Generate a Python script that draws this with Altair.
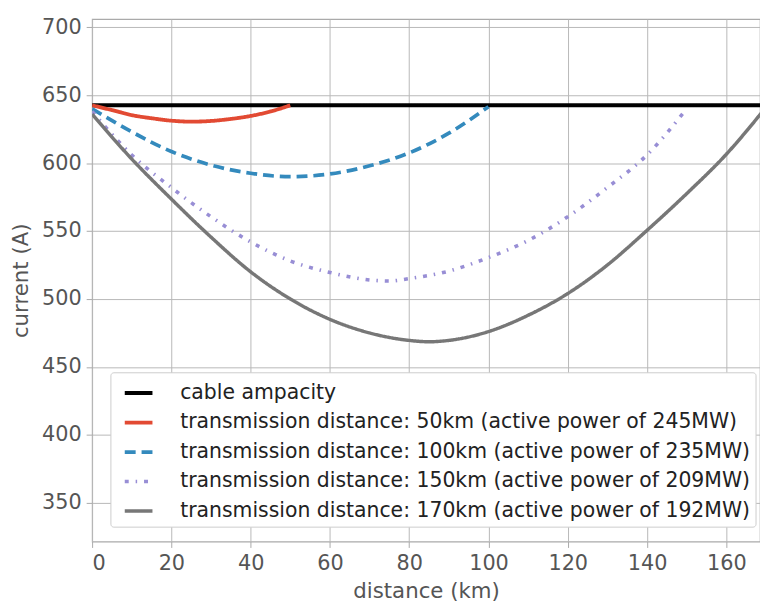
import altair as alt
import pandas as pd

series_names = [
    "cable ampacity",
    "transmission distance: 50km (active power of 245MW)",
    "transmission distance: 100km (active power of 235MW)",
    "transmission distance: 150km (active power of 209MW)",
    "transmission distance: 170km (active power of 192MW)",
]
colors = ["#000000", "#E24A33", "#348ABD", "#988ED5", "#777777"]
dashes = [[1, 0], [1, 0], [11, 6], [4, 7, 1.5, 7], [1, 0]]
widths = [4, 3.5, 4, 4, 3.5]

amp_x = [0, 170]
amp_y = [642.5, 642.5]

d50_x = [0, 5, 10, 15, 20, 25, 30, 35, 40, 45, 50]
d50_y = [642.5, 639, 635.3, 633, 631.2, 630.5, 631, 632.5, 634.7, 638, 642.5]

d100_x = [0, 10, 20, 30, 40, 50, 60, 70, 80, 90, 100]
d100_y = [640, 623, 608.5, 598.5, 592.5, 590, 592, 598, 607.5, 622, 641.5]

d150_x = [0, 10, 20, 30, 40, 50, 60, 70, 75, 80, 90, 100, 110, 120, 130, 140, 150]
d150_y = [638, 606, 582, 560.5, 542, 528, 519.5, 514, 513.2, 515, 520.5, 530.5,
          543, 560.5, 582, 606, 640]

d170_x = [0, 10, 20, 30, 40, 50, 60, 70, 80, 85, 90, 100, 110, 120, 130, 140, 150, 160, 170]
d170_y = [636, 603, 573.5, 545.5, 520, 500, 485, 475, 469.5, 468.5, 469.5, 476, 488,
          504, 525, 550.5, 577.5, 606.5, 641]

x_ticks = [0, 20, 40, 60, 80, 100, 120, 140, 160]
y_ticks = [350, 400, 450, 500, 550, 600, 650, 700]

rows = []
for name, xs, ys in zip(series_names,
                        [amp_x, d50_x, d100_x, d150_x, d170_x],
                        [amp_y, d50_y, d100_y, d150_y, d170_y]):
    for xv, yv in zip(xs, ys):
        rows.append({"series": name, "distance": xv, "current": yv})
df = pd.DataFrame(rows)

font = "DejaVu Sans"

chart = alt.Chart(df).mark_line(clip=True, interpolate="monotone").encode(
    x=alt.X("distance:Q", title="distance (km)",
            scale=alt.Scale(domain=[0, 168.5], nice=False, zero=False),
            axis=alt.Axis(values=x_ticks, format="d")),
    y=alt.Y("current:Q", title="current (A)",
            scale=alt.Scale(domain=[321.5, 706], nice=False, zero=False),
            axis=alt.Axis(values=y_ticks, format="d")),
    color=alt.Color("series:N", title=None,
                    scale=alt.Scale(domain=series_names, range=colors),
                    sort=series_names,
                    legend=alt.Legend(orient="none", legendX=18.5, legendY=357,
                                      symbolType="stroke", symbolSize=784,
                                      symbolStrokeWidth=4, symbolOffset=7.5,
                                      labelOffset=26, labelFontSize=20.6,
                                      labelFont=font, labelColor="#222222",
                                      labelLimit=800, rowPadding=2.8, padding=5,
                                      fillColor="white", strokeColor="#cccccc",
                                      cornerRadius=3)),
    strokeDash=alt.StrokeDash("series:N", title=None,
                              scale=alt.Scale(domain=series_names, range=dashes),
                              sort=series_names),
    strokeWidth=alt.StrokeWidth("series:N",
                                scale=alt.Scale(domain=series_names, range=widths),
                                legend=None),
    order=alt.Order("distance:Q"),
).properties(
    width=675,
    height=528,
    autosize=alt.AutoSizeParams(type="none"),
    padding={"left": 85, "top": 8, "right": 0, "bottom": 60},
).configure_view(
    stroke="#aaaaaa", strokeWidth=1.2, fill="white"
).configure_axis(
    grid=True, gridColor="#b8b8b8", gridWidth=1,
    domain=False,
    tickColor="#aaaaaa", tickSize=6, tickWidth=1,
    labelFont=font, labelFontSize=21, labelColor="#555555",
    titleFont=font, titleFontSize=21.5, titleColor="#555555",
    titleFontWeight="normal", labelPadding=5,
).configure_axisY(
    titlePadding=9
).configure_axisX(
    titlePadding=8
)

chart.save("out.html", embed_options={"renderer": "svg", "actions": False})
